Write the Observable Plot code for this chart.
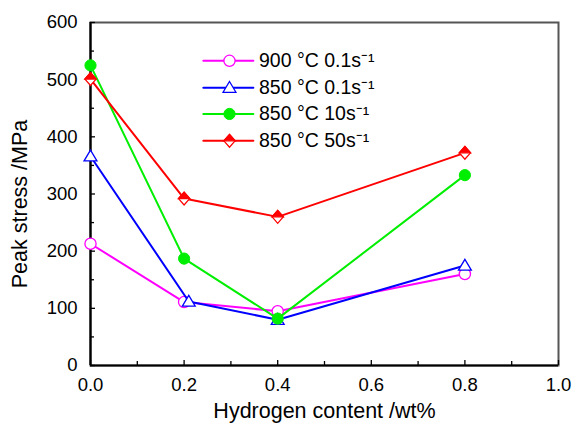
<!DOCTYPE html>
<html><head><meta charset="utf-8">
<script src="https://cdn.jsdelivr.net/npm/d3@7"></script>
<script src="https://cdn.jsdelivr.net/npm/@observablehq/plot@0.6"></script>
<style>body{margin:0;background:#fff}</style>
</head><body><div id="chart"></div>
<script>
const seriesNames = ["900 °C 0.1s⁻¹", "850 °C 0.1s⁻¹", "850 °C 10s⁻¹", "850 °C 50s⁻¹"];
const xs900_01 = [0.0, 0.2, 0.4, 0.8];
const ys900_01 = [213, 111, 95, 160];
const xs850_01 = [0.0, 0.21, 0.4, 0.8];
const ys850_01 = [366, 112, 80, 175];
const xs850_10 = [0.0, 0.2, 0.4, 0.8];
const ys850_10 = [525, 187, 82, 333];
const xs850_50 = [0.0, 0.2, 0.4, 0.8];
const ys850_50 = [501, 292, 260, 372];
const xTicks = [0, 0.2, 0.4, 0.6, 0.8, 1.0];
const yTicks = [0, 100, 200, 300, 400, 500, 600];
const xMinor = [0.1, 0.3, 0.5, 0.7, 0.9];
const yMinor = [50, 150, 250, 350, 450, 550];

const colors = ["#ff00ff", "#0000ff", "#00ee00", "#ff0000"];

const mk = (xs, ys, s) => xs.map((x, i) => ({x, y: ys[i], s}));
const data = [
  ...mk(xs900_01, ys900_01, seriesNames[0]),
  ...mk(xs850_01, ys850_01, seriesNames[1]),
  ...mk(xs850_10, ys850_10, seriesNames[2]),
  ...mk(xs850_50, ys850_50, seriesNames[3])
];
const bySeries = k => data.filter(d => d.s === seriesNames[k]);

// custom symbols
const diamondFull = {draw(ctx, size) {
  const r = Math.sqrt(size / Math.PI); const h = r * 1.15, w = r * 1.0;
  ctx.moveTo(0, -h); ctx.lineTo(w, 0); ctx.lineTo(0, h); ctx.lineTo(-w, 0); ctx.closePath();
}};
const diamondTop = {draw(ctx, size) {
  const r = Math.sqrt(size / Math.PI); const h = r * 1.15, w = r * 1.0;
  ctx.moveTo(0, -h); ctx.lineTo(w, 0); ctx.lineTo(-w, 0); ctx.closePath();
}};
const tri = {draw(ctx, size) {
  const r = Math.sqrt(size / Math.PI); const h = r * 1.1, w = r * 1.15;
  ctx.moveTo(0, -h); ctx.lineTo(w, h * 0.75); ctx.lineTo(-w, h * 0.75); ctx.closePath();
}};

// legend layout (data coords of legend anchor, layout only)
const legY = [533, 486, 440, 393];
const legX1 = 0.241, legX2 = 0.348, legXm = 0.297, legXt = 0.36;
const legend = seriesNames.map((s, i) => ({s, i, y: legY[i]}));
const legLines = legend.flatMap(d => [{s: d.s, i: d.i, x: legX1, y: d.y}, {s: d.s, i: d.i, x: legX2, y: d.y}]);
const legPts = legend.map(d => ({...d, x: legXm}));

function seriesMarks(k, src) {
  const c = colors[k];
  const marks = [Plot.line(src, {x: "x", y: "y", z: "s", stroke: c, strokeWidth: 2})];
  const r = 5.6;
  if (k === 0) marks.push(Plot.dot(src, {x: "x", y: "y", r, fill: "white", stroke: c, strokeWidth: 1.3}));
  if (k === 1) marks.push(Plot.dot(src, {x: "x", y: "y", r, symbol: tri, fill: "white", stroke: c, strokeWidth: 1.3}));
  if (k === 2) marks.push(Plot.dot(src, {x: "x", y: "y", r, fill: c, stroke: c, strokeWidth: 1}));
  if (k === 3) {
    marks.push(Plot.dot(src, {x: "x", y: "y", r, symbol: diamondFull, fill: "white", stroke: c, strokeWidth: 1.3}));
    marks.push(Plot.dot(src, {x: "x", y: "y", r, symbol: diamondTop, fill: c, stroke: c, strokeWidth: 1.3}));
  }
  return marks;
}

const plot = Plot.plot({
  width: 576, height: 425,
  marginLeft: 90, marginRight: 18, marginTop: 22, marginBottom: 60,
  style: {fontFamily: "'Liberation Sans', Arial, Helvetica, sans-serif", fontSize: "18.5px", color: "#000", background: "#fff"},
  x: {domain: [0, 1]},
  y: {domain: [0, 600]},
  marks: [
    Plot.frame({stroke: "#555", strokeWidth: 2}),
    Plot.ruleX([0], {stroke: "#000", strokeWidth: 2.2}),
    Plot.ruleY([0], {stroke: "#000", strokeWidth: 2.2}),
    Plot.axisX({ticks: xTicks, tickFormat: d => d.toFixed(1), tickSize: -5, tickPadding: 17, label: null, fontSize: 18.5, strokeWidth: 1.3}),
    Plot.axisX({ticks: xMinor, tickFormat: () => "", tickSize: -4, label: null, strokeWidth: 1.3}),
    Plot.axisY({ticks: yTicks, tickFormat: d => String(d), tickSize: -5, tickPadding: 18, label: null, fontSize: 18.5, strokeWidth: 1.3}),
    Plot.axisY({ticks: yMinor, tickFormat: () => "", tickSize: -4, label: null, strokeWidth: 1.3}),
    Plot.text(["Hydrogen content /wt%"], {frameAnchor: "bottom", lineAnchor: "middle", textAnchor: "middle", dy: 46, fontSize: 21.5, fill: "#000"}),
    Plot.text(["Peak stress /MPa"], {frameAnchor: "left", lineAnchor: "middle", textAnchor: "middle", rotate: -90, dx: -70, dy: 10, fontSize: 21.5, fill: "#000"}),
    ...[0, 1, 2, 3].flatMap(k => seriesMarks(k, bySeries(k))),
    // legend
    ...[0, 1, 2, 3].flatMap(k => seriesMarks(k, legLines.filter(d => d.i === k)).slice(0, 1)),
    ...[0, 1, 2, 3].flatMap(k => seriesMarks(k, legPts.filter(d => d.i === k)).slice(1)),
    Plot.text(legend, {x: () => legXt, y: "y", text: "s", textAnchor: "start", fontSize: 19.5, fill: "#000"})
  ]
});
document.getElementById("chart").append(plot);
</script>
</body></html>
